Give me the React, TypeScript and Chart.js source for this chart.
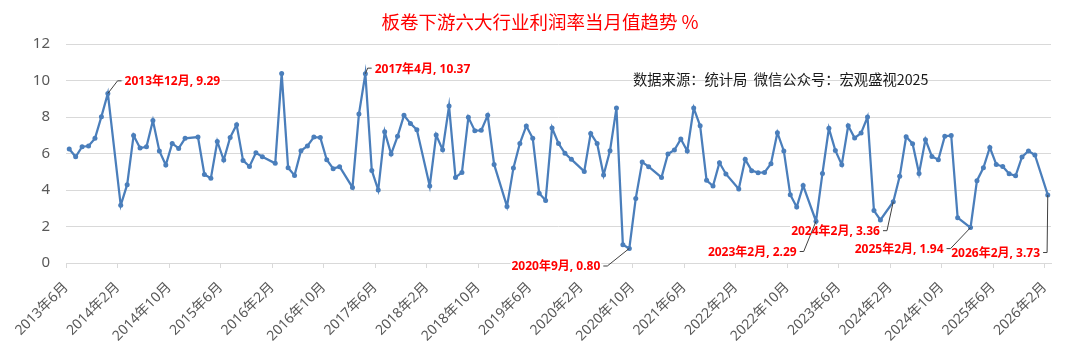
import React, { useEffect, useRef } from 'react';
import { Chart, registerables } from 'chart.js';

Chart.register(...registerables);

// 板卷下游六大行业利润率当月值 (%) — monthly, 2013年6月 … 2026年2月; January not published (null)
const START_YEAR = 2013;
const START_MONTH = 6;

const rate2013 = [6.25, 5.82, 6.37, 6.41, 6.83, 8.02, 9.29]; // Jun–Dec
const rate2014 = [null, 3.16, 4.29, 6.99, 6.30, 6.37, 7.81, 6.14, 5.37, 6.55, 6.28, 6.83];
const rate2015 = [null, 6.90, 4.85, 4.64, 6.66, 5.64, 6.88, 7.58, 5.62, 5.29, 6.04, 5.82];
const rate2016 = [null, 5.46, 10.39, 5.22, 4.80, 6.15, 6.41, 6.90, 6.87, 5.66, 5.17, 5.28];
const rate2017 = [null, 4.14, 8.16, 10.37, 5.07, 4.00, 7.19, 5.97, 6.94, 8.09, 7.65, 7.30];
const rate2018 = [null, 4.22, 7.01, 6.21, 8.60, 4.69, 4.96, 7.98, 7.25, 7.27, 8.09, 5.40];
const rate2019 = [null, 3.10, 5.21, 6.55, 7.51, 6.83, 3.82, 3.43, 7.40, 6.55, 6.01, 5.68];
const rate2020 = [null, 5.02, 7.10, 6.55, 4.82, 6.15, 8.49, 1.00, 0.80, 3.54, 5.53, 5.28];
const rate2021 = [null, 4.69, 5.97, 6.19, 6.79, 6.14, 8.49, 7.52, 4.53, 4.22, 5.50, 4.88];
const rate2022 = [null, 4.05, 5.68, 5.06, 4.95, 4.96, 5.44, 7.14, 6.14, 3.74, 3.07, 4.24];
const rate2023 = [null, 2.29, 4.91, 7.38, 6.17, 5.39, 7.52, 6.85, 7.12, 8.00, 2.87, 2.36];
const rate2024 = [null, 3.36, 4.75, 6.92, 6.54, 4.91, 6.76, 5.84, 5.66, 6.94, 6.99, 2.48];
const rate2025 = [null, 1.94, 4.51, 5.22, 6.33, 5.40, 5.29, 4.89, 4.78, 5.81, 6.14, 5.92];
const rate2026 = [null, 3.73]; // Jan–Feb

const profitRate: (number | null)[] = [
  ...rate2013, ...rate2014, ...rate2015, ...rate2016, ...rate2017, ...rate2018, ...rate2019,
  ...rate2020, ...rate2021, ...rate2022, ...rate2023, ...rate2024, ...rate2025, ...rate2026,
];

const tickLabels = [
  '2013年6月', '2014年2月', '2014年10月', '2015年6月', '2016年2月', '2016年10月', '2017年6月',
  '2018年2月', '2018年10月', '2019年6月', '2020年2月', '2020年10月', '2021年6月', '2022年2月',
  '2022年10月', '2023年6月', '2024年2月', '2024年10月', '2025年6月', '2026年2月',
];

const annotatedMonths = ['2013年12月', '2017年4月', '2020年9月', '2023年2月', '2024年2月', '2025年2月', '2026年2月'];

const TITLE = '板卷下游六大行业利润率当月值趋势 %';
const SOURCE = '数据来源：统计局  微信公众号：宏观盛视2025';

// layout of the data-label callouts (offset of the text anchor from its point)
const calloutPlacement = [
  { dx: 16.7, dy: -11.6, align: 'left' },
  { dx: 9.3, dy: -4.6, align: 'left' },
  { dx: -29, dy: 18.6, align: 'right' },
  { dx: -19.3, dy: 31.3, align: 'right' },
  { dx: -13.3, dy: 30, align: 'right' },
  { dx: -27, dy: 22, align: 'right' },
  { dx: -7.7, dy: 58.6, align: 'right' },
];

const monthLabels = profitRate.map((_, i) => {
  const t = START_MONTH - 1 + i;
  return `${START_YEAR + Math.floor(t / 12)}年${(t % 12) + 1}月`;
});
const tickValues = tickLabels.map((l) => monthLabels.indexOf(l));

const FONT = '"Noto Sans", "Noto Sans CJK SC", sans-serif';
const CJK = '"Noto Sans CJK SC", sans-serif';

const overlayPlugin = {
  id: 'overlay',
  afterDraw(chart: any) {
    const ctx = chart.ctx as CanvasRenderingContext2D;
    const xs = chart.scales.x;
    const ys = chart.scales.y;
    ctx.save();
    ctx.font = `18.5px ${CJK}`;
    ctx.fillStyle = '#FF0000';
    ctx.textAlign = 'center';
    ctx.textBaseline = 'middle';
    ctx.fillText(TITLE, 540, 22);

    ctx.font = `14.3px ${CJK}`;
    ctx.fillStyle = '#1a1a1a';
    ctx.textAlign = 'left';
    ctx.fillText(SOURCE, 633, 80);

    const items = annotatedMonths.map((lab, k) => {
      const i = monthLabels.indexOf(lab);
      const v = profitRate[i] as number;
      const px = xs.getPixelForValue(i + 0.5);
      const py = ys.getPixelForValue(v);
      const p = calloutPlacement[k];
      return { px, py, tx: px + p.dx, ty: py + p.dy, align: p.align, text: `${lab}, ${v.toFixed(2)}` };
    });
    ctx.font = `bold 12px ${FONT}`;
    items.forEach((it) => {
      const w = ctx.measureText(it.text).width;
      const x0 = it.align === 'left' ? it.tx : it.tx - w;
      ctx.fillStyle = '#ffffff';
      ctx.fillRect(x0 - 1, it.ty - 7, w + 2, 14);
    });
    items.forEach((it) => {
      const s = it.align === 'left' ? -1 : 1;
      ctx.strokeStyle = '#404040';
      ctx.lineWidth = 1;
      ctx.beginPath();
      ctx.moveTo(it.px, it.py);
      ctx.lineTo(it.tx + s * 7, it.ty - 1);
      ctx.lineTo(it.tx + s * 3, it.ty - 1);
      ctx.stroke();
    });
    items.forEach((it) => {
      ctx.fillStyle = '#FF0000';
      ctx.textAlign = it.align as CanvasTextAlign;
      ctx.textBaseline = 'middle';
      ctx.fillText(it.text, it.tx, it.ty);
    });
    ctx.restore();
  },
};

export default function App() {
  const ref = useRef<HTMLCanvasElement>(null);
  useEffect(() => {
    if (!ref.current) return;
    const chart = new Chart(ref.current, {
      type: 'line',
      data: {
        datasets: [
          {
            label: '利润率',
            data: profitRate.map((v, i) => ({ x: i + 0.5, y: v })) as any,
            borderColor: '#4A7EBB',
            backgroundColor: '#4A7EBB',
            borderWidth: 2.25,
            pointRadius: 2.5,
            pointHoverRadius: 2.5,
            pointBorderWidth: 0,
            spanGaps: true,
            tension: 0,
          },
        ],
      },
      options: {
        animation: false,
        responsive: true,
        maintainAspectRatio: false,
        devicePixelRatio: 1,
        layout: { padding: { top: 44, right: 29, left: 0, bottom: 0 } },
        plugins: { legend: { display: false }, tooltip: { enabled: false }, title: { display: false } },
        scales: {
          x: {
            type: 'linear',
            min: 0,
            max: profitRate.length,
            afterBuildTicks: (s: any) => {
              s.ticks = tickValues.map((v) => ({ value: v }));
            },
            afterFit: (s: any) => {
              s.height = 89;
            },
            ticks: {
              autoSkip: false,
              minRotation: 45,
              maxRotation: 45,
              color: '#595959',
              font: { size: 14, family: FONT },
              padding: 11,
              callback: (v: any) => tickLabels[tickValues.indexOf(v)] ?? '',
            },
            grid: { drawOnChartArea: false, drawTicks: true, tickLength: 5, color: '#d9d9d9' },
            border: { display: true, color: '#d9d9d9' },
          },
          y: {
            min: 0,
            max: 12,
            afterFit: (s: any) => {
              s.width = 66;
            },
            ticks: { stepSize: 2, color: '#595959', font: { size: 15, family: FONT }, padding: 16 },
            grid: { color: '#d9d9d9', drawTicks: false },
            border: { display: false },
          },
        },
      },
      plugins: [overlayPlugin],
    });
    return () => chart.destroy();
  }, []);
  return (
    <div style={{ position: 'absolute', left: 0, top: 0, width: 1080, height: 352, background: '#fff' }}>
      <canvas ref={ref} />
    </div>
  );
}
